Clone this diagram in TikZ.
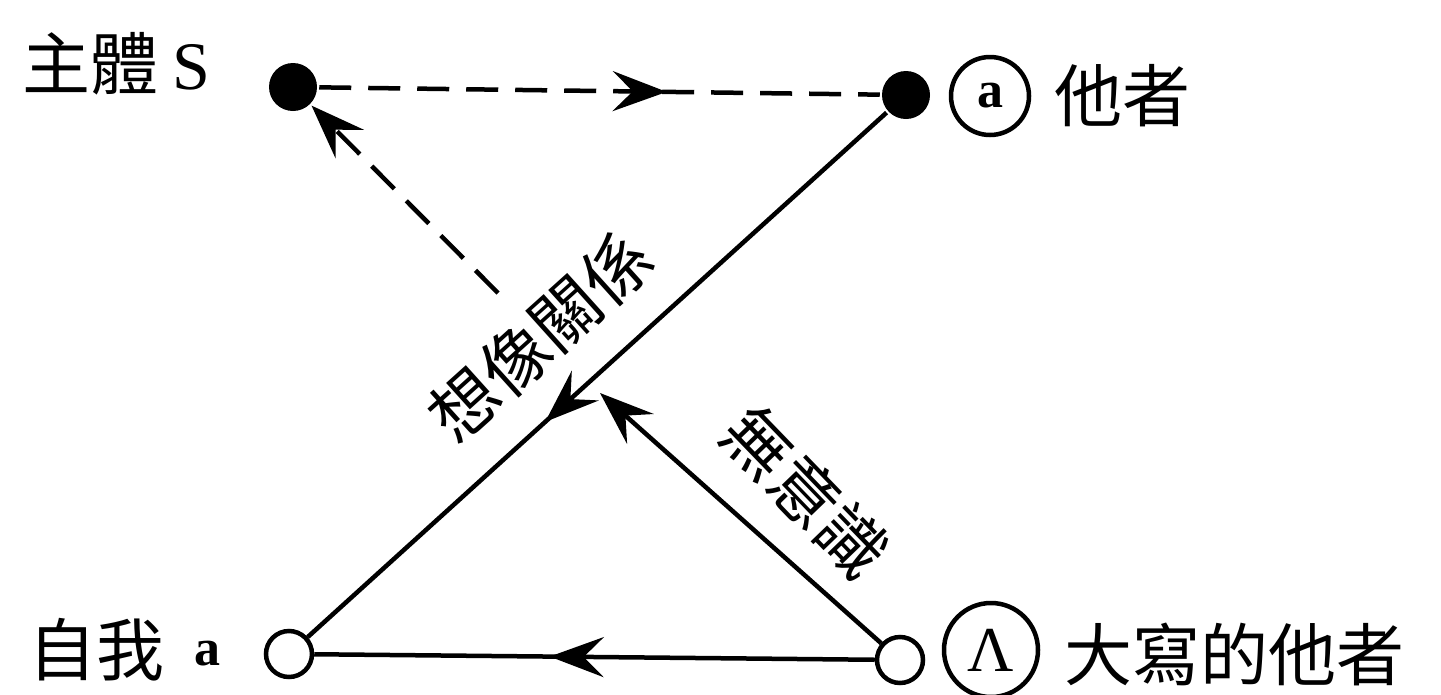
\documentclass[tikz,border=0pt]{standalone}
\usepackage{fontspec}
\setmainfont{Liberation Serif}
\newfontfamily\cjk{Noto Sans CJK TC}
\usetikzlibrary{arrows.meta,decorations.markings}
\tikzset{
  midtip/.tip={Stealth[length=54pt,width=40pt,inset=20pt]},
}
\begin{document}
\begin{tikzpicture}[x=1pt,y=-1pt,line width=4.5pt,
  dot/.style={circle,fill=black,inner sep=0pt,minimum size=48pt},
  hollow/.style={circle,draw=black,line width=4.5pt,fill=white,inner sep=0pt,minimum size=46pt},
  ring/.style={circle,draw=black,line width=4.5pt,inner sep=0pt},
  lbl/.style={inner sep=0pt,font=\fontsize{68}{68}\selectfont},
  dsh/.style={dash pattern=on 32pt off 17pt},
  midarrow/.style={postaction={decorate},decoration={markings,mark=at position #1 with {\arrow{midtip}}}},
]
\useasboundingbox (0,0) rectangle (1441,694);

% points
\node[dot] (S) at (293,87) {};
\node[dot] (O) at (906,95) {};
\node[hollow] (ego) at (289,654) {};
\node[hollow] (A) at (900,660) {};
\coordinate (dend) at (498,293);
\coordinate (uend) at (600,393);

% labels
\node[lbl,anchor=west] (lS) at (20,64) {{\cjk 主體}\hspace{14pt}S};
\node[ring,minimum size=78pt] (ca) at (990,96) {\fontsize{52}{52}\selectfont\bfseries a};
\node[lbl,anchor=west] (lO) at (1052,96) {\cjk 他者};
\node[lbl,anchor=west] (lego) at (26,650) {{\cjk 自我}\hspace{30pt}\raisebox{10pt}{\fontsize{52}{52}\selectfont\bfseries a}};
\node[ring,minimum size=94pt] (cA) at (991,650) {\fontsize{64}{64}\selectfont Λ};
\node[lbl,anchor=west] (lA) at (1062,654) {\cjk 大寫的他者};

% connectors
\draw[dsh,midarrow=0.62] (S) -- (O);
\draw[dsh,-{Stealth[length=54pt,width=40pt,inset=20pt]}] (dend) -- (S);
\draw[midarrow=0.59] (O) -- (ego);
\draw[midarrow=0.58] (A) -- (ego);
\draw[-{Stealth[length=54pt,width=40pt,inset=20pt]}] (A) -- (uend);

% edge labels
\node[lbl,rotate=42] (imag) at (540,336) {\cjk 想像關係};
\node[lbl,rotate=-46] (unc) at (806,492) {\cjk 無意識};
\end{tikzpicture}
\end{document}
